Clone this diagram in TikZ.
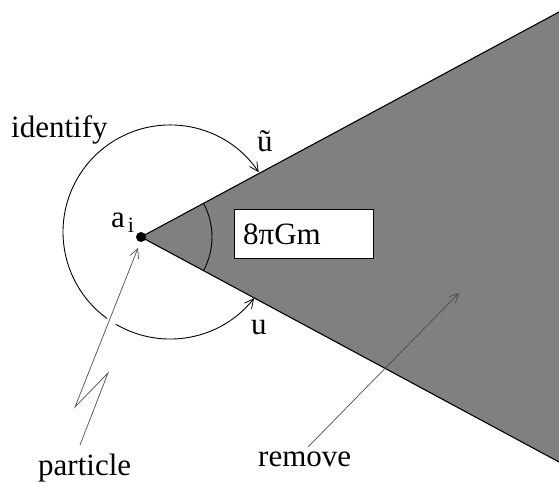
\documentclass[tikz,border=0pt]{standalone}
\usepackage{fontspec}
\setmainfont{Liberation Serif}
\usetikzlibrary{arrows.meta,calc}
\tikzset{
  lbl/.style={anchor=base west, inner sep=0pt, font=\fontsize{31}{34}\selectfont},
  edge/.style={line width=1.1pt, black},
  circarc/.style={line width=0.9pt, black},
  barbtip/.tip={Straight Barb[length=9pt,width=9pt,line width=0.8pt]},
  pointer/.style={line width=0.7pt, draw=black!70, -{Straight Barb[length=9pt,width=9pt,line width=0.7pt]}},
}
\begin{document}
\begin{tikzpicture}[x=1pt,y=1pt]
\useasboundingbox (0,0) rectangle (559,484);
% wedge
\coordinate (V) at (141,247);
\coordinate (T) at (559,472);
\coordinate (B) at (559,22);
\fill[black!50] (V) -- (T) -- (B) -- cycle;
\draw[edge] (T) -- (V) -- (B);
% circle arcs
\coordinate (C) at (170,252);
\draw[circarc, barbtip-] ($(C)+(34:107)$) arc[start angle=34, end angle=234, radius=107];
\draw[circarc, -barbtip] ($(C)+(239.5:107)$) arc[start angle=239.5, end angle=321.8, radius=107];
% angle mark
\draw[line width=0.9pt] ($(V)+(-28.4:71)$) arc[start angle=-28.4, end angle=28.4, radius=71];
% box
\node[draw, fill=white, line width=0.9pt, minimum width=139pt, minimum height=49pt, inner sep=0pt] (box) at (303.5,250.5) {};
\node[lbl] (ang) at (243,239) {8πGm};
% dot
\node[circle, fill=black, inner sep=0pt, minimum size=10pt] (dot) at (V) {};
% labels
\node[lbl] (identify) at (11,346) {identify};
\node[lbl] (ut) at (257,332) {ũ};
\node[lbl] (ai) at (111,256) {a\kern3pt\raisebox{-5pt}{\fontsize{22}{23}\selectfont i}};
\node[lbl] (u) at (251,149) {u};
\node[lbl] (particle) at (38,8) {particle};
\node[lbl] (remove) at (258,17) {remove};
% pointers
\coordinate (p0) at (80,39);
\coordinate (p1) at (108,111);
\coordinate (p2) at (75,77);
\coordinate (p3) at (138,236);
\draw[pointer] (p0) -- (p1) -- (p2) -- (p3);
\coordinate (r0) at (308,37);
\coordinate (r1) at (459,191);
\draw[pointer] (r0) -- (r1);
\end{tikzpicture}
\end{document}
